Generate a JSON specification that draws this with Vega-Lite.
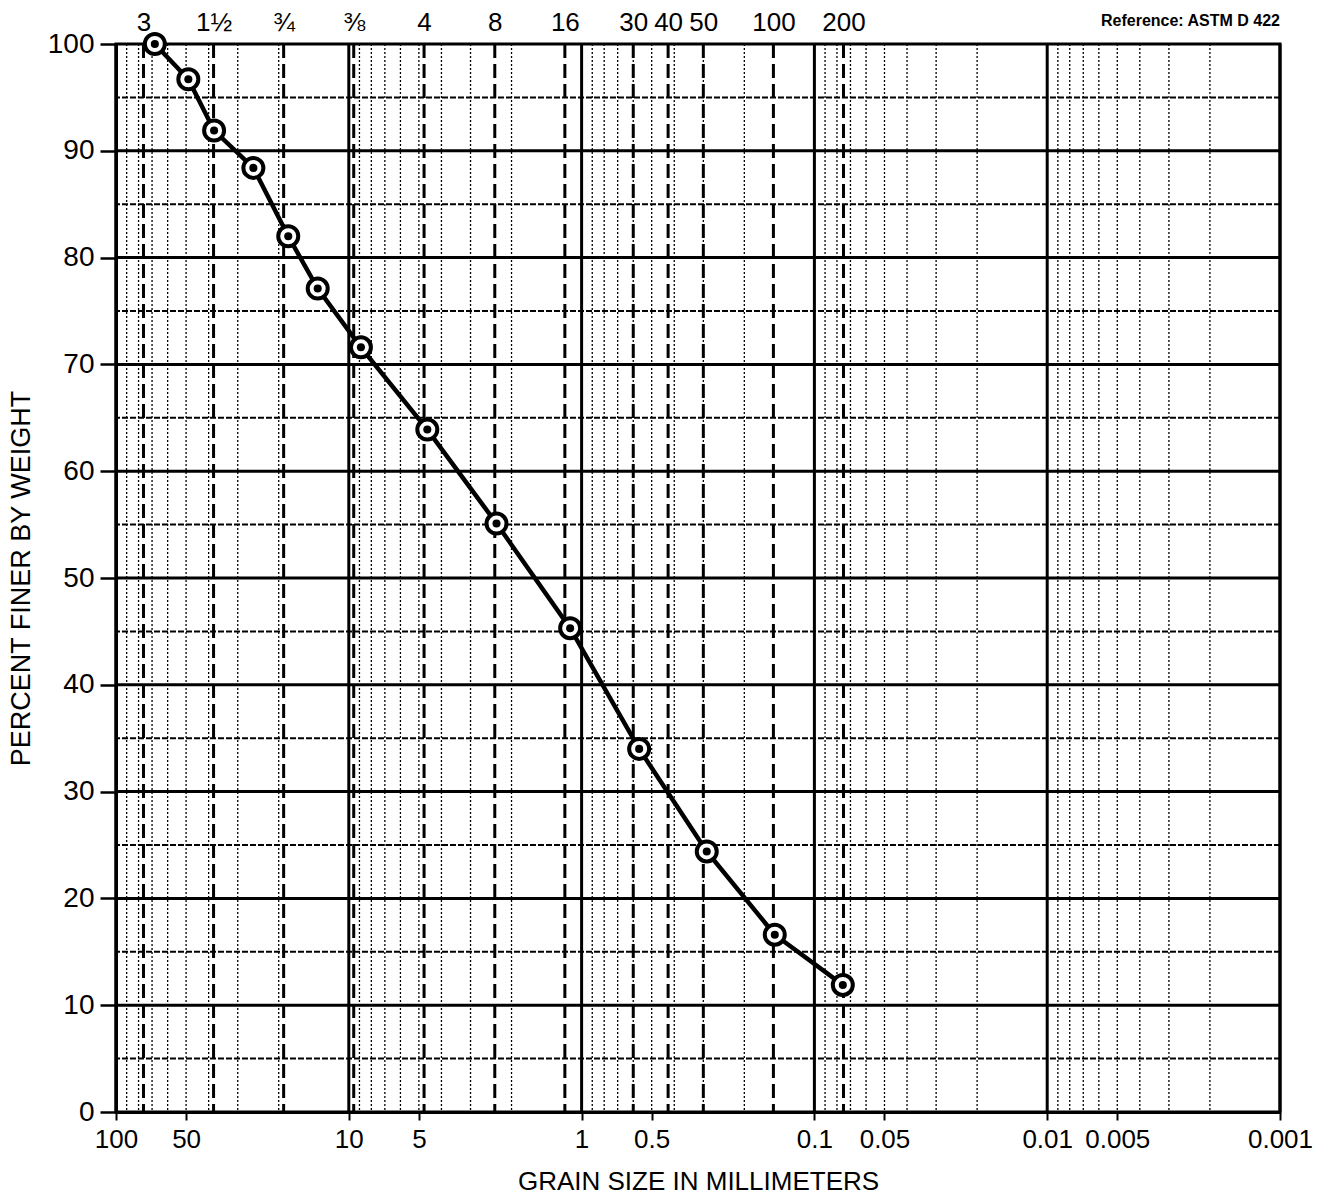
{
  "$schema": "https://vega.github.io/schema/vega-lite/v6.json",
  "width": 1164,
  "height": 1068,
  "autosize": {"type": "none"},
  "padding": {"left": 116, "top": 44, "right": 44, "bottom": 87},
  "background": "white",
  "title": {
    "text": "Reference: ASTM D 422",
    "anchor": "end",
    "frame": "group",
    "orient": "top",
    "font": "Liberation Sans",
    "fontSize": 16,
    "fontWeight": "bold",
    "color": "black",
    "offset": -20
  },
  "config": {
    "view": {"stroke": "black", "strokeWidth": 3},
    "axis": {
      "labelFont": "Liberation Sans",
      "titleFont": "Liberation Sans",
      "labelColor": "black",
      "titleColor": "black",
      "domainColor": "black",
      "tickColor": "black",
      "grid": false
    }
  },
  "datasets": {
    "points": [
      {"size": 68.1, "pct": 100},
      {"size": 48.9, "pct": 96.7},
      {"size": 37.9, "pct": 91.9},
      {"size": 25.7, "pct": 88.4},
      {"size": 18.2, "pct": 82.0},
      {"size": 13.6, "pct": 77.1},
      {"size": 8.87, "pct": 71.6},
      {"size": 4.6, "pct": 63.9},
      {"size": 2.32, "pct": 55.1},
      {"size": 1.12, "pct": 45.3},
      {"size": 0.566, "pct": 34.0},
      {"size": 0.29, "pct": 24.4},
      {"size": 0.148, "pct": 16.6},
      {"size": 0.0755, "pct": 11.9}
    ],
    "decades": [
      {"size": 100}, {"size": 10}, {"size": 1}, {"size": 0.1}, {"size": 0.01}, {"size": 0.001}
    ],
    "minorX": [
      {"size": 90}, {"size": 80}, {"size": 70}, {"size": 60}, {"size": 50}, {"size": 40}, {"size": 30}, {"size": 20},
      {"size": 9}, {"size": 8}, {"size": 7}, {"size": 6}, {"size": 5}, {"size": 4}, {"size": 3}, {"size": 2},
      {"size": 0.9}, {"size": 0.8}, {"size": 0.7}, {"size": 0.6}, {"size": 0.5}, {"size": 0.4}, {"size": 0.3}, {"size": 0.2},
      {"size": 0.09}, {"size": 0.08}, {"size": 0.07}, {"size": 0.06}, {"size": 0.05}, {"size": 0.04}, {"size": 0.03}, {"size": 0.02},
      {"size": 0.009}, {"size": 0.008}, {"size": 0.007}, {"size": 0.006}, {"size": 0.005}, {"size": 0.004}, {"size": 0.003}, {"size": 0.002}
    ],
    "majorY": [
      {"pct": 10}, {"pct": 20}, {"pct": 30}, {"pct": 40}, {"pct": 50}, {"pct": 60}, {"pct": 70}, {"pct": 80}, {"pct": 90}
    ],
    "minorY": [
      {"pct": 5}, {"pct": 15}, {"pct": 25}, {"pct": 35}, {"pct": 45}, {"pct": 55}, {"pct": 65}, {"pct": 75}, {"pct": 85}, {"pct": 95}
    ],
    "sieves": [
      {"size": 76.2, "label": "3"},
      {"size": 38.1, "label": "1½"},
      {"size": 19.05, "label": "¾"},
      {"size": 9.525, "label": "⅜"},
      {"size": 4.75, "label": "4"},
      {"size": 2.36, "label": "8"},
      {"size": 1.18, "label": "16"},
      {"size": 0.6, "label": "30"},
      {"size": 0.425, "label": "40"},
      {"size": 0.3, "label": "50"},
      {"size": 0.15, "label": "100"},
      {"size": 0.075, "label": "200"}
    ]
  },
  "resolve": {"axis": {"x": "independent", "y": "independent"}},
  "layer": [
    {
      "data": {"name": "minorX"},
      "mark": {"type": "rule", "color": "black", "strokeWidth": 1.3, "strokeDash": [2, 2]},
      "encoding": {
        "x": {"field": "size", "type": "quantitative", "scale": {"type": "log", "domain": [0.001, 100], "reverse": true}, "axis": null}
      }
    },
    {
      "data": {"name": "minorY"},
      "mark": {"type": "rule", "color": "black", "strokeWidth": 2, "strokeDash": [6, 2]},
      "encoding": {
        "y": {"field": "pct", "type": "quantitative", "scale": {"domain": [0, 100], "nice": false}, "axis": null}
      }
    },
    {
      "data": {"name": "sieves"},
      "mark": {"type": "rule", "color": "black", "strokeWidth": 3, "strokeDash": [14, 6]},
      "encoding": {
        "x": {
          "field": "size",
          "type": "quantitative",
          "axis": {
            "orient": "top",
            "values": [76.2, 38.1, 19.05, 9.525, 4.75, 2.36, 1.18, 0.6, 0.425, 0.3, 0.15, 0.075],
            "labelExpr": "{'76.2':'3','38.1':'1½','19.05':'¾','9.525':'⅜','4.75':'4','2.36':'8','1.18':'16','0.6':'30','0.425':'40','0.3':'50','0.15':'100','0.075':'200'}[toString(datum.value)]",
            "domain": false,
            "ticks": false,
            "labelPadding": 9,
            "labelFontSize": 26,
            "labelFlush": false,
            "labelOverlap": false,
            "title": null
          }
        }
      }
    },
    {
      "data": {"name": "majorY"},
      "mark": {"type": "rule", "color": "black", "strokeWidth": 3},
      "encoding": {
        "y": {"field": "pct", "type": "quantitative", "axis": null}
      }
    },
    {
      "data": {"name": "decades"},
      "mark": {"type": "rule", "color": "black", "strokeWidth": 3},
      "encoding": {
        "x": {"field": "size", "type": "quantitative", "axis": null}
      }
    },
    {
      "data": {"name": "points"},
      "mark": {"type": "line", "color": "black", "strokeWidth": 4.5},
      "encoding": {
        "x": {
          "field": "size",
          "type": "quantitative",
          "axis": {
            "orient": "bottom",
            "values": [100, 50, 10, 5, 1, 0.5, 0.1, 0.05, 0.01, 0.005, 0.001],
            "format": "~g",
            "domain": true,
            "domainWidth": 3,
            "ticks": true,
            "tickSize": 8,
            "tickWidth": 2,
            "labelFontSize": 26,
            "labelPadding": 6,
            "labelFlush": false,
            "labelOverlap": false,
            "title": "GRAIN SIZE IN MILLIMETERS",
            "titleFontSize": 26,
            "titleFontWeight": "normal",
            "titlePadding": 16
          }
        },
        "y": {
          "field": "pct",
          "type": "quantitative",
          "axis": {
            "orient": "left",
            "values": [0, 10, 20, 30, 40, 50, 60, 70, 80, 90, 100],
            "domain": true,
            "domainWidth": 3,
            "tickSize": 16,
            "tickWidth": 2.5,
            "labelFontSize": 28,
            "labelPadding": 6,
            "labelFlush": false,
            "labelOverlap": false,
            "title": "PERCENT FINER BY WEIGHT",
            "titleFontSize": 27,
            "titleFontWeight": "normal",
            "titlePadding": 12
          }
        }
      }
    },
    {
      "data": {"name": "points"},
      "mark": {"type": "point", "shape": "circle", "filled": true, "fill": "white", "stroke": "black", "strokeWidth": 4, "size": 400, "opacity": 1},
      "encoding": {
        "x": {"field": "size", "type": "quantitative", "axis": null},
        "y": {"field": "pct", "type": "quantitative", "axis": null}
      }
    },
    {
      "data": {"name": "points"},
      "mark": {"type": "point", "shape": "circle", "filled": true, "color": "black", "size": 65, "opacity": 1},
      "encoding": {
        "x": {"field": "size", "type": "quantitative", "axis": null},
        "y": {"field": "pct", "type": "quantitative", "axis": null}
      }
    }
  ]
}
